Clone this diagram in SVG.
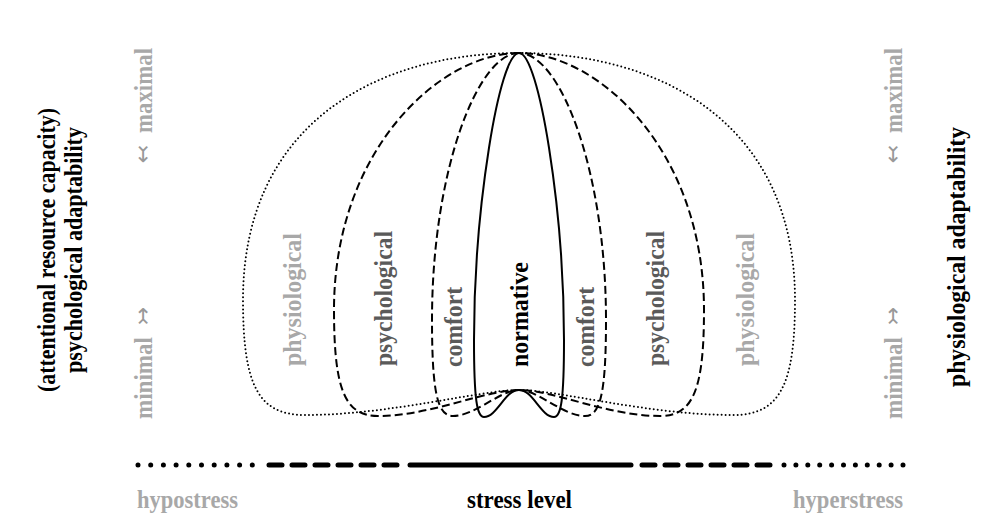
<svg xmlns="http://www.w3.org/2000/svg" width="1000" height="529" viewBox="0 0 1000 529">
<style>
.t{font-family:"Liberation Serif","Times New Roman",serif;font-weight:bold;font-size:26px}
.lt{fill:#a8a8a8}
.md{fill:#5a5a5a}
.dk{fill:#000}
.ar{font-family:"DejaVu Sans",sans-serif;font-size:22px;fill:#999}
.lobe{fill:none;stroke:#000;stroke-width:2}
.dot{stroke-dasharray:0 4;stroke-linecap:round}
.dash{stroke-dasharray:8 4}
.bar{fill:none;stroke:#000;stroke-width:5;stroke-linecap:round}
</style>
<rect width="1000" height="529" fill="#fff"/>
<g id="connectors">
<path id="physiological-lobe" class="lobe dot" d="M519,53 C375,53 243,125 243,300 C243,385 258,415 305,415 C390,415 480,390 519,390 C558,390 648,415 733,415 C780,415 795,385 795,300 C795,125 663,53 519,53 Z"/>
<path id="psychological-lobe" class="lobe dash" d="M519,53 C440,53 334,150 334,310 C334,390 345,416 378,416 C430,416 485,390 519,390 C553,390 608,416 660,416 C693,416 704,390 704,310 C704,150 598,53 519,53 Z"/>
<path id="comfort-lobe" class="lobe dash" d="M519,53 C478,53 432,170 432,320 C432,395 438,416 453,416 C475,416 500,390 519,390 C538,390 563,416 585,416 C600,416 606,395 606,320 C606,170 560,53 519,53 Z"/>
<path id="normative-lobe" class="lobe" d="M519,53 C499,53 474,210 474,340 C474,400 477,417 484,417 C497,417 505,390 519,390 C533,390 541,417 554,417 C561,417 564,400 564,340 C564,210 539,53 519,53 Z"/>
<g id="stress-bar">
<line class="bar" x1="138" y1="465" x2="256" y2="465" stroke-dasharray="0 12.7"/>
<line class="bar" x1="269" y1="465" x2="400" y2="465" stroke-dasharray="13 10"/>
<line class="bar" x1="410" y1="465" x2="631" y2="465"/>
<line class="bar" x1="642" y1="465" x2="772" y2="465" stroke-dasharray="13 10"/>
<line class="bar" x1="784" y1="465" x2="903" y2="465" stroke-dasharray="0 11.9"/>
</g>
</g>
<g id="node-physiological-left"><text class="t lt" transform="translate(292,366) rotate(-90)" dominant-baseline="central" textLength="133" lengthAdjust="spacingAndGlyphs">physiological</text></g>
<g id="node-psychological-left"><text class="t md" transform="translate(383,366) rotate(-90)" dominant-baseline="central" textLength="135" lengthAdjust="spacingAndGlyphs">psychological</text></g>
<g id="node-comfort-left"><text class="t md" transform="translate(453,367) rotate(-90)" dominant-baseline="central" textLength="80" lengthAdjust="spacingAndGlyphs">comfort</text></g>
<g id="node-normative"><text class="t dk" transform="translate(519,367) rotate(-90)" dominant-baseline="central" textLength="105" lengthAdjust="spacingAndGlyphs">normative</text></g>
<g id="node-comfort-right"><text class="t md" transform="translate(585,367) rotate(-90)" dominant-baseline="central" textLength="80" lengthAdjust="spacingAndGlyphs">comfort</text></g>
<g id="node-psychological-right"><text class="t md" transform="translate(655,366) rotate(-90)" dominant-baseline="central" textLength="135" lengthAdjust="spacingAndGlyphs">psychological</text></g>
<g id="node-physiological-right"><text class="t lt" transform="translate(745,366) rotate(-90)" dominant-baseline="central" textLength="133" lengthAdjust="spacingAndGlyphs">physiological</text></g>
<g id="axis-left">
<text class="t dk" transform="translate(46,392) rotate(-90)" dominant-baseline="central" textLength="284" lengthAdjust="spacingAndGlyphs">(attentional resource capacity)</text>
<text class="t dk" transform="translate(73,373) rotate(-90)" dominant-baseline="central" textLength="246" lengthAdjust="spacingAndGlyphs">psychological adaptability</text>
<text class="t lt" transform="translate(143,419) rotate(-90)" dominant-baseline="central" textLength="82" lengthAdjust="spacingAndGlyphs">minimal</text>
<text class="ar" transform="translate(142,316) rotate(-90)" text-anchor="middle" dominant-baseline="central">↣</text>
<text class="ar" transform="translate(142,154) rotate(-90)" text-anchor="middle" dominant-baseline="central">↢</text>
<text class="t lt" transform="translate(143,133) rotate(-90)" dominant-baseline="central" textLength="85" lengthAdjust="spacingAndGlyphs">maximal</text>
</g>
<g id="axis-right">
<text class="t dk" transform="translate(956,387) rotate(-90)" dominant-baseline="central" textLength="260" lengthAdjust="spacingAndGlyphs">physiological adaptability</text>
<text class="t lt" transform="translate(893,419) rotate(-90)" dominant-baseline="central" textLength="82" lengthAdjust="spacingAndGlyphs">minimal</text>
<text class="ar" transform="translate(892,316) rotate(-90)" text-anchor="middle" dominant-baseline="central">↣</text>
<text class="ar" transform="translate(892,154) rotate(-90)" text-anchor="middle" dominant-baseline="central">↢</text>
<text class="t lt" transform="translate(893,133) rotate(-90)" dominant-baseline="central" textLength="85" lengthAdjust="spacingAndGlyphs">maximal</text>
</g>
<g id="axis-bottom">
<text class="t lt" x="137" y="508" textLength="101" lengthAdjust="spacingAndGlyphs">hypostress</text>
<text class="t dk" x="467" y="508" textLength="105" lengthAdjust="spacingAndGlyphs">stress level</text>
<text class="t lt" x="793" y="508" textLength="110" lengthAdjust="spacingAndGlyphs">hyperstress</text>
</g>
</svg>
